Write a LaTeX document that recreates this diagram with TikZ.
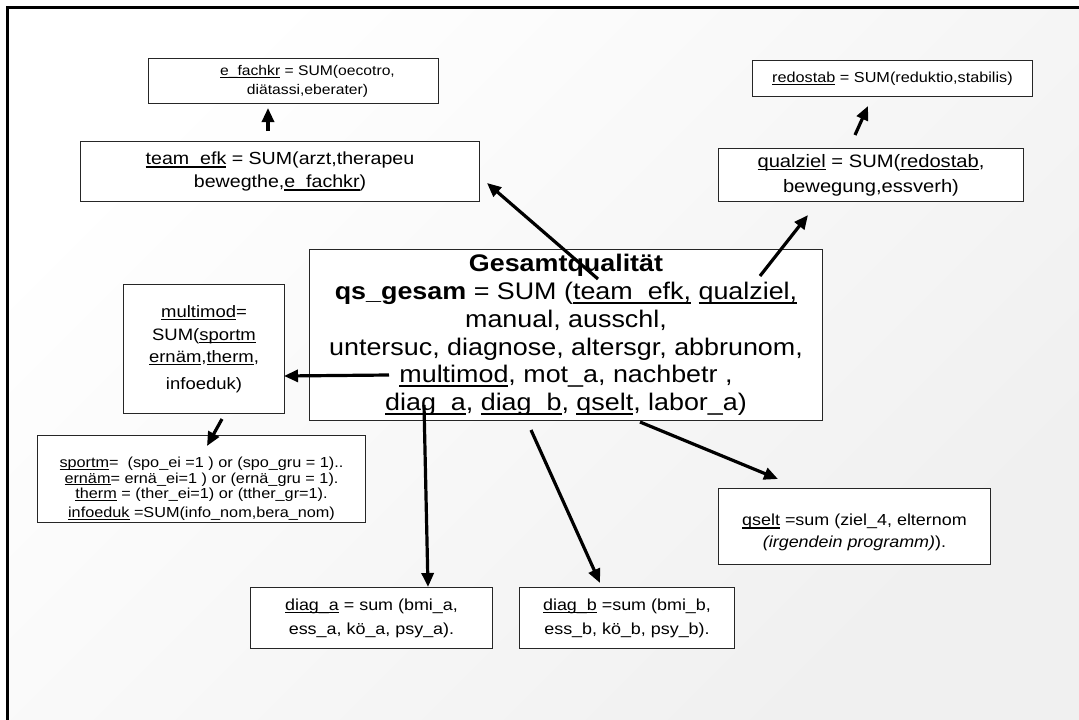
\documentclass[tikz,border=0pt]{standalone}
\usepackage{fontspec}
\setmainfont{Liberation Sans}[FakeStretch=1.12]
\usetikzlibrary{arrows.meta}
\newcommand\ulx[1]{\setbox0\hbox{#1}\rlap{\rule[-0.17em]{\wd0}{0.07em}}\box0\relax}
\tikzset{
  box/.style={draw=black!85, line width=1pt, fill=white, align=center, inner sep=0pt, anchor=north west},
  arr/.style={line width=3.2pt, -{Triangle[length=14pt,width=12pt]}}
}
\begin{document}
\begin{tikzpicture}[x=1pt,y=-1pt]
\useasboundingbox (0,0) rectangle (1079,720);
\shade[top color=white, bottom color=black!6, shading angle=45] (7,7) rectangle (1079,720);
\draw[line width=3pt] (7,725) -- (7,7) -- (1085,7);

\node[box, minimum width=290pt, minimum height=45pt, font=\fontsize{14}{19}\selectfont] (efach) at (148,58)
  {\hspace*{28pt}\ulx{e\_fachkr} = SUM(oecotro,\\\hspace*{28pt}diätassi,eberater)};
\node[box, minimum width=280pt, minimum height=36pt, font=\fontsize{14.5}{19}\selectfont] (redo) at (752,60)
  {\ulx{redostab} = SUM(reduktio,stabilis)};
\node[box, minimum width=399pt, minimum height=60pt, font=\fontsize{17.5}{23}\selectfont] (team) at (80,141)
  {\ulx{team\_efk} = SUM(arzt,therapeu\\bewegthe,\ulx{e\_fachkr})};
\node[box, minimum width=305pt, minimum height=53pt, font=\fontsize{18}{25}\selectfont] (qual) at (718,148)
  {\ulx{qualziel} = SUM(\ulx{redostab},\\bewegung,essverh)};
\node[box, minimum width=513pt, minimum height=171pt, font=\fontsize{24}{27.8}\selectfont] (main) at (309,249)
  {\textbf{Gesamtqualität}\\
   \textbf{qs\_gesam} = SUM (\ulx{team\_efk,} \ulx{qualziel,}\\
   manual, ausschl,\\
   untersuc, diagnose, altersgr, abbrunom,\\
   \ulx{multimod}, mot\_a, nachbetr ,\\
   \ulx{diag\_a}, \ulx{diag\_b}, \ulx{qselt}, labor\_a)};
\node[box, minimum width=161pt, minimum height=129pt, font=\fontsize{16.5}{22.5}\selectfont] (multi) at (123,284)
  {\ulx{multimod}=\\SUM(\ulx{sportm}\\\ulx{ernäm},\ulx{therm},\\[4pt]infoeduk)};
\node[box, minimum width=328pt, minimum height=87pt, font=\fontsize{14.5}{15.5}\selectfont] (sport) at (37,435)
  {\rule{0pt}{30pt}\ulx{sportm}=\ \ (spo\_ei =1 ) or (spo\_gru = 1)..\\
   \ulx{ernäm}= ernä\_ei=1 ) or (ernä\_gru = 1).\\
   \ulx{therm} = (ther\_ei=1) or (tther\_gr=1).\\[3.5pt]
   \ulx{infoeduk} =SUM(info\_nom,bera\_nom)};
\node[box, minimum width=272pt, minimum height=76pt, font=\fontsize{16}{22}\selectfont] (qselt) at (718,488)
  {\rule{0pt}{24pt}\ulx{qselt} =sum (ziel\_4, elternom\\\textit{(irgendein programm)}).};
\node[box, minimum width=242pt, minimum height=61pt, font=\fontsize{16}{24}\selectfont] (diaga) at (250,587)
  {\ulx{diag\_a} = sum (bmi\_a,\\ess\_a, kö\_a, psy\_a).};
\node[box, minimum width=215pt, minimum height=61pt, font=\fontsize{16}{24}\selectfont] (diagb) at (519,587)
  {\ulx{diag\_b} =sum (bmi\_b,\\ess\_b, kö\_b, psy\_b).};

\coordinate (s1) at (598,279); \coordinate (e1) at (487,183);
\coordinate (s2) at (760,276); \coordinate (e2) at (808,215);
\coordinate (s3) at (268,131); \coordinate (e3) at (268,108);
\coordinate (s4) at (855,135); \coordinate (e4) at (868,106);
\coordinate (s5) at (389,375); \coordinate (e5) at (284,376);
\coordinate (s6) at (222,419); \coordinate (e6) at (207,446);
\coordinate (s7) at (424,405); \coordinate (e7) at (428,587);
\coordinate (s8) at (531,430); \coordinate (e8) at (600,583);
\coordinate (s9) at (640,422); \coordinate (e9) at (778,479);
\foreach \i in {1,...,9} \draw[arr] (s\i) -- (e\i);
\end{tikzpicture}
\end{document}
